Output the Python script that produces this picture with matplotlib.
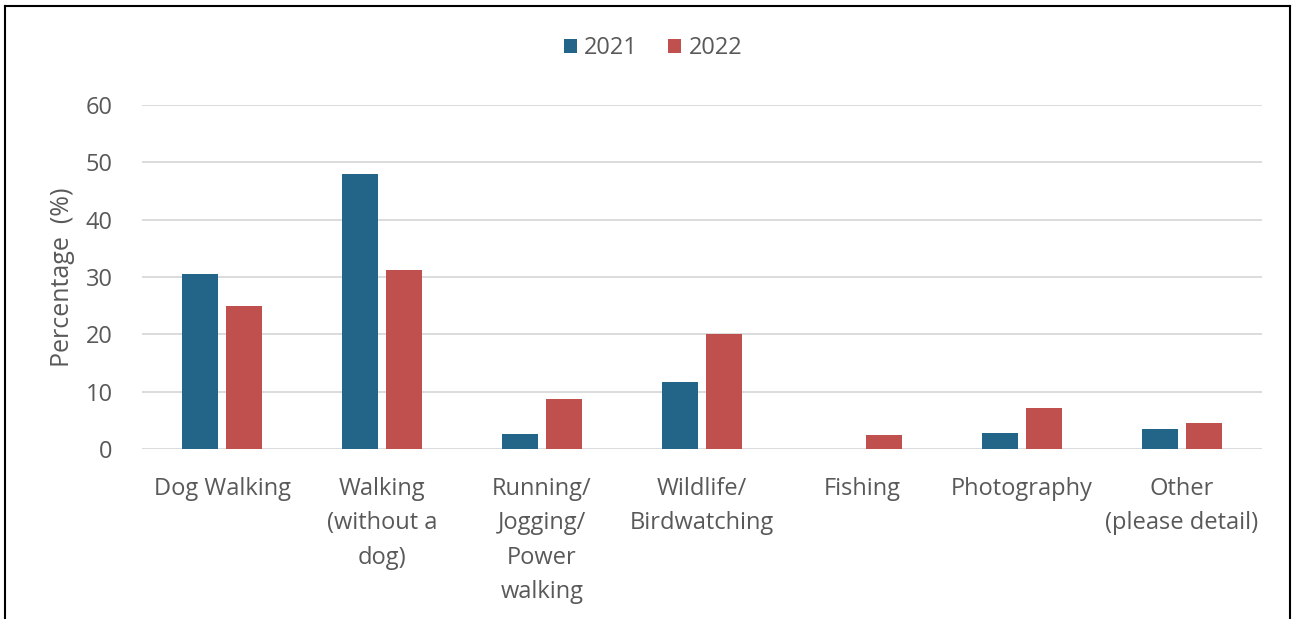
import matplotlib
matplotlib.use("Agg")
import matplotlib.pyplot as plt
from matplotlib.lines import Line2D
import numpy as np

categories = ["Dog Walking", "Walking\n(without a\ndog)", "Running/\nJogging/\nPower\nwalking",
              "Wildlife/\nBirdwatching", "Fishing", "Photography", "Other\n(please detail)"]
values_2021 = [30.5, 47.9, 2.7, 11.6, 0.0, 2.8, 3.5]
values_2022 = [25.0, 31.3, 8.7, 20.1, 2.4, 7.2, 4.6]
series_labels = ["2021", "2022"]
yticks = [0, 10, 20, 30, 40, 50, 60]

plt.rcParams['font.family'] = ['Open Sans', 'DejaVu Sans']
text_color = "#595959"
c2021 = "#236588"
c2022 = "#C0504D"
fs = 17

fig = plt.figure(figsize=(12.92, 6.19), dpi=100)
ax = fig.add_axes([142/1292, 1-449/619, 1120/1292, 344/619])

x = np.arange(len(categories))
w = 0.225
off = 0.14
ax.bar(x - off, values_2021, w, color=c2021, label=series_labels[0], zorder=3)
ax.bar(x + off, values_2022, w, color=c2022, label=series_labels[1], zorder=3)

ax.set_xlim(-0.5, len(categories) - 0.5)
ax.set_ylim(0, 60)
ax.set_yticks(yticks)
ax.set_yticklabels([str(t) for t in yticks], fontsize=fs, color=text_color)
ax.set_xticks(x)
ax.set_xticklabels(categories, fontsize=fs, color=text_color, linespacing=1.58, va='top')
ax.tick_params(axis='both', length=0)
ax.tick_params(axis='x', pad=20)
ax.tick_params(axis='y', pad=21)
ax.grid(axis='y', color="#d9d9d9", linewidth=1.3, zorder=0)
for s in ax.spines.values():
    s.set_visible(False)
ax.set_ylabel("Percentage  (%)", fontsize=18, color=text_color, labelpad=8)

leg = fig.legend(loc='center', bbox_to_anchor=(653/1292, 1-48/619), ncol=2, frameon=False,
                 fontsize=fs, handlelength=0.55, handleheight=0.55, handletextpad=0.3,
                 columnspacing=1.3)
for t in leg.get_texts():
    t.set_color(text_color)

# figure border (top, left, right)
fig.add_artist(Line2D([5/1292, 5/1292], [0, 1-6/619], transform=fig.transFigure, color='black', lw=1.5))
fig.add_artist(Line2D([1290/1292, 1290/1292], [0, 1-6/619], transform=fig.transFigure, color='black', lw=1.5))
fig.add_artist(Line2D([5/1292, 1290/1292], [1-6/619, 1-6/619], transform=fig.transFigure, color='black', lw=1.5))

fig.savefig("out.png", dpi=100)
